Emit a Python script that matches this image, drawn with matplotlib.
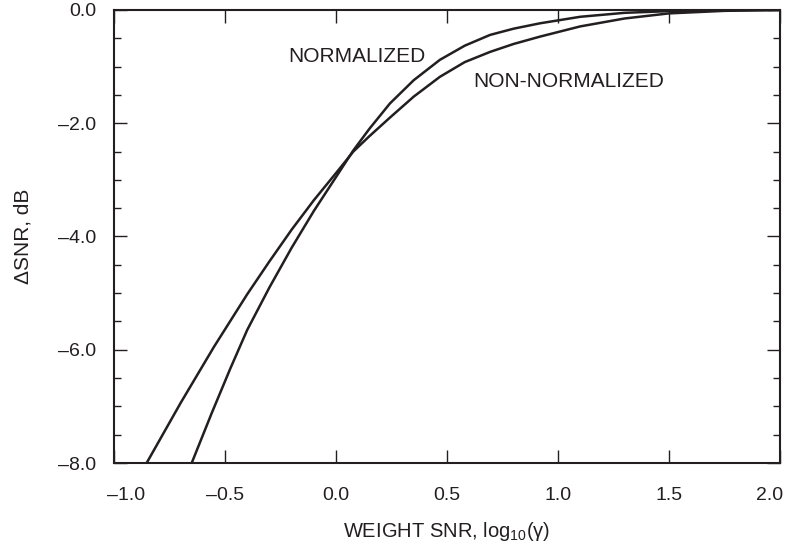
import matplotlib
matplotlib.use("Agg")
import matplotlib.pyplot as plt
import matplotlib.ticker as ticker
import matplotlib.transforms as mtransforms

plt.rcParams['font.family'] = ['Liberation Sans', 'DejaVu Sans']

INK = '#231f20'

# curve values (x = log10(gamma), y = delta SNR in dB)
norm_x = [-0.65, -0.56, -0.477, -0.4, -0.3, -0.2, -0.1, 0.0, 0.078, 0.15, 0.243, 0.35,
          0.468, 0.58, 0.694, 0.8, 0.919, 1.1, 1.3, 1.5, 1.75, 2.0]
norm_y = [-8.0, -7.12, -6.34, -5.65, -4.9, -4.2, -3.55, -2.95, -2.48, -2.1, -1.65, -1.24,
          -0.88, -0.63, -0.44, -0.33, -0.235, -0.12, -0.05, -0.02, -0.005, 0.0]

nonnorm_x = [-0.853, -0.7, -0.55, -0.4, -0.3, -0.2, -0.1, 0.0, 0.078, 0.15, 0.243,
             0.35, 0.468, 0.58, 0.694, 0.8, 0.919, 1.1, 1.3, 1.5, 1.75, 2.0]
nonnorm_y = [-8.0, -6.94, -5.95, -5.02, -4.44, -3.88, -3.36, -2.88, -2.5, -2.23, -1.9,
             -1.53, -1.18, -0.92, -0.74, -0.6, -0.47, -0.29, -0.15, -0.06, -0.015, 0.0]

x_ticks = [-1.0, -0.5, 0.0, 0.5, 1.0, 1.5, 2.0]
y_ticks = [0.0, -2.0, -4.0, -6.0, -8.0]


def dash_fmt(v, pos):
    s = '%.1f' % abs(v)
    return '\u2013' + s if v < -1e-9 else s


fig = plt.figure(figsize=(7.89, 5.46), dpi=100)
ax = fig.add_axes([0.1445, 0.152, 0.8441, 0.8297])

ax.plot(norm_x, norm_y, color=INK, lw=1.8, solid_capstyle='butt', solid_joinstyle='round')
ax.plot(nonnorm_x, nonnorm_y, color=INK, lw=1.8, solid_capstyle='butt', solid_joinstyle='round')

ax.text(-0.216, -0.83, 'NORMALIZED', fontsize=15, color=INK, va='center', ha='left')
ax.text(0.617, -1.27, 'NON-NORMALIZED', fontsize=15, color=INK, va='center', ha='left')

ax.set_xlim(-1.0, 2.0)
ax.set_ylim(-8.0, 0.0)
ax.set_xticks(x_ticks)
ax.set_yticks(y_ticks)
ax.xaxis.set_major_formatter(ticker.FuncFormatter(dash_fmt))
ax.yaxis.set_major_formatter(ticker.FuncFormatter(dash_fmt))
ax.yaxis.set_minor_locator(ticker.MultipleLocator(0.5))

for s in ax.spines.values():
    s.set_linewidth(1.5)
    s.set_color(INK)

ax.tick_params(axis='both', which='major', direction='in', length=9.5, width=1.0,
               colors=INK, labelsize=14, top=True, right=True)
ax.tick_params(axis='both', which='minor', direction='in', length=5, width=1.0,
               colors=INK, top=True, right=True)
ax.tick_params(axis='x', which='major', pad=17)
ax.tick_params(axis='y', which='major', pad=13)

# end labels sit a little inside, as in the reference
fig.canvas.draw()
xlabels = ax.get_xticklabels()
xlabels[0].set_transform(xlabels[0].get_transform() +
                         mtransforms.ScaledTranslation(12 / 100, 0, fig.dpi_scale_trans))
xlabels[-1].set_transform(xlabels[-1].get_transform() +
                          mtransforms.ScaledTranslation(-10 / 100, 0, fig.dpi_scale_trans))

ax.set_xlabel('WEIGHT SNR, log$\\mathregular{_{10}}$(γ)', fontsize=14.5, color=INK, labelpad=12)
ax.set_ylabel('ΔSNR, dB', fontsize=15, color=INK, labelpad=18)

fig.savefig('out.png', dpi=100)
